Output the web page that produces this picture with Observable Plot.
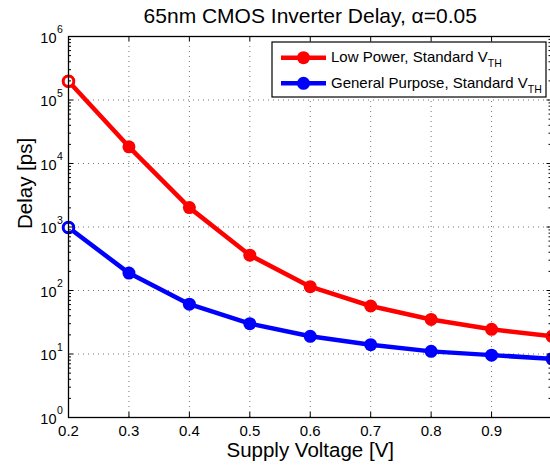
<!DOCTYPE html>
<html><head><meta charset="utf-8">
<script src="https://cdn.jsdelivr.net/npm/d3@7"></script>
<script src="https://cdn.jsdelivr.net/npm/@observablehq/plot@0.6"></script>
<style>
html,body{margin:0;padding:0;background:#fff;overflow:hidden}
#chart svg{display:block}
</style>
</head><body><div id="chart"></div>
<script>
// ---- data ----
const voltages = [0.2, 0.3, 0.4, 0.5, 0.6, 0.7, 0.8, 0.9, 1.0];
const lowPowerDelay = [197000, 18300, 2020, 360, 115, 57, 35, 24.5, 19];
const generalPurposeDelay = [980, 188, 61, 30, 19, 14, 11, 9.6, 8.4];
const seriesNames = ["Low Power, Standard V", "General Purpose, Standard V"];
const seriesSubscripts = ["TH", "TH"];
const seriesColors = ["#ff0000", "#0000ff"];
const xTicks = [0.2, 0.3, 0.4, 0.5, 0.6, 0.7, 0.8, 0.9, 1.0];
const xTickLabels = ["0.2", "0.3", "0.4", "0.5", "0.6", "0.7", "0.8", "0.9"];
const yExponents = [0, 1, 2, 3, 4, 5, 6];
const titleText = "65nm CMOS Inverter Delay, \u03b1=0.05";
const xLabel = "Supply Voltage [V]";
const yLabel = "Delay [ps]";

// ---- layout ----
const W = 550, H = 468;
const mL = 68, mR = -1.5, mT = 36, mB = 51;
const pw = W - mL - mR, ph = H - mT - mB;
const FONT = "Liberation Sans, Arial, Helvetica, sans-serif";

const series = [lowPowerDelay, generalPurposeDelay];
const rows = [];
series.forEach((vals, s) => vals.forEach((d, i) => rows.push({s, v: voltages[i], d, color: seriesColors[s]})));

const decades = yExponents.map(e => 10 ** e);
const minors = [];
for (let e = 0; e < 6; e++) for (let k = 2; k <= 9; k++) minors.push(k * 10 ** e);

const grid = {stroke: "#000", strokeOpacity: 0.55, strokeDasharray: "1,4", strokeWidth: 1};

const chart = Plot.plot({
  width: W, height: H,
  marginLeft: mL, marginRight: mR, marginTop: mT, marginBottom: mB,
  style: {fontFamily: FONT, background: "#fff", color: "#000", overflow: "visible"},
  x: {domain: [0.2, 1.0], axis: null},
  y: {type: "log", domain: [1, 1e6], axis: null},
  color: {type: "identity"},
  marks: [
    Plot.ruleX(xTicks.slice(1, -1), {x: d => d, ...grid}),
    Plot.ruleY(decades.slice(1, -1), {y: d => d, ...grid}),
    Plot.line(rows, {x: "v", y: "d", z: "s", stroke: "color", strokeWidth: 4.5, strokeLinejoin: "round"}),
    Plot.dot(rows, {x: "v", y: "d", r: 6.5, fill: "color", stroke: "none"}),
    Plot.dot(rows.filter(r => r.v === voltages[0]), {x: "v", y: "d", r: 5.3, fill: "#fff", stroke: "color", strokeWidth: 3}),
    // ticks (inside)
    Plot.ruleX(xTicks, {x: d => d, insetTop: ph - 5, stroke: "#000"}),
    Plot.ruleX(xTicks, {x: d => d, insetBottom: ph - 5, stroke: "#000"}),
    Plot.ruleY(decades, {y: d => d, insetRight: pw - 5, stroke: "#000"}),
    Plot.ruleY(decades, {y: d => d, insetLeft: pw - 5, stroke: "#000"}),
    Plot.ruleY(minors, {y: d => d, insetRight: pw - 3, stroke: "#000"}),
    Plot.ruleY(minors, {y: d => d, insetLeft: pw - 3, stroke: "#000"}),
    Plot.frame({stroke: "#000", strokeWidth: 1.3}),
    // tick labels
    Plot.text(xTickLabels, {x: (d, i) => xTicks[i], text: d => d, frameAnchor: "bottom", lineAnchor: "top", dy: 8, fontSize: 15, fill: "#000"}),
    Plot.text(yExponents, {y: e => 10 ** e, text: () => "10", frameAnchor: "left", textAnchor: "end", lineAnchor: "middle", dx: -12, dy: 1.5, fontSize: 14.5, fill: "#000"}),
    Plot.text(yExponents, {y: e => 10 ** e, text: e => String(e), frameAnchor: "left", textAnchor: "start", lineAnchor: "middle", dx: -11.5, dy: -6.5, fontSize: 10.5, fill: "#000"}),
    // titles
    Plot.text([titleText], {text: d => d, frameAnchor: "top", lineAnchor: "middle", dy: -20.5, fontSize: 21, fill: "#000"}),
    Plot.text([xLabel], {text: d => d, frameAnchor: "bottom", lineAnchor: "middle", dy: 33, fontSize: 20.5, fill: "#000"}),
    Plot.text([yLabel], {text: d => d, frameAnchor: "left", lineAnchor: "middle", rotate: -90, dx: -43, dy: 2, fontSize: 20.5, fill: "#000"})
  ]
});
document.getElementById("chart").appendChild(chart);

// ---- legend (chrome) ----
const svg = d3.select(chart);
const lg = svg.append("g").attr("font-family", FONT).attr("text-anchor", "start");
const bx = 272, by = 42, bw = 274, bh = 55, rowH = 25.6;
lg.append("rect").attr("x", bx).attr("y", by).attr("width", bw).attr("height", bh)
  .attr("fill", "#fff").attr("stroke", "#000").attr("stroke-width", 1.2);
seriesNames.forEach((name, i) => {
  const cy = 57.7 + i * rowH;
  lg.append("line").attr("x1", 281).attr("x2", 326).attr("y1", cy).attr("y2", cy)
    .attr("stroke", seriesColors[i]).attr("stroke-width", 4.5);
  lg.append("circle").attr("cx", 303.5).attr("cy", cy).attr("r", 6.5).attr("fill", seriesColors[i]);
  const t = lg.append("text").attr("x", 331).attr("y", cy + 4.5).attr("font-size", 15)
    .attr("fill", "#000").attr("text-anchor", "start");
  t.append("tspan").text(name);
  t.append("tspan").attr("dy", 5).attr("font-size", 10.5).text(seriesSubscripts[i]);
});
</script>
</body></html>
